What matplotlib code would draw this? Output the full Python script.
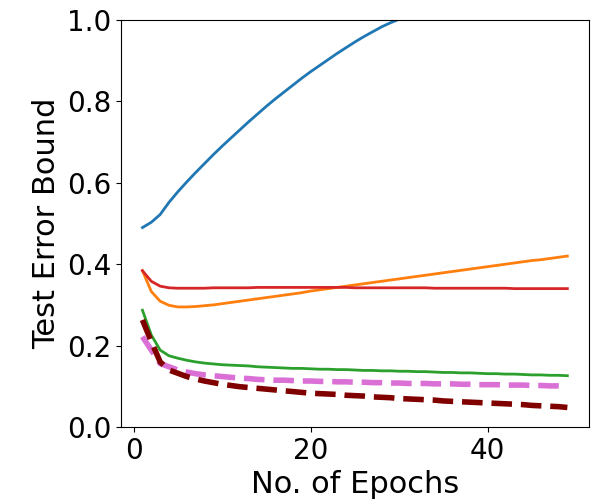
import numpy as np
import matplotlib
matplotlib.use("Agg")
import matplotlib.pyplot as plt

# epochs 1..49
epochs = np.arange(1, 50)

blue = [0.490, 0.503, 0.522, 0.552, 0.578, 0.602, 0.625, 0.647, 0.669, 0.690,
        0.710, 0.730, 0.750, 0.769, 0.788, 0.806, 0.823, 0.840, 0.857, 0.873,
        0.888, 0.903, 0.918, 0.932, 0.946, 0.959, 0.971, 0.983, 0.993, 1.002,
        1.014, 1.026, 1.038, 1.049, 1.060, 1.071, 1.081, 1.091, 1.101, 1.111,
        1.121, 1.130, 1.139, 1.148, 1.157, 1.165, 1.173, 1.181, 1.189]

orange = [0.384, 0.333, 0.309, 0.299, 0.295, 0.295, 0.296, 0.298, 0.300, 0.303,
          0.306, 0.309, 0.312, 0.315, 0.318, 0.321, 0.324, 0.327, 0.330, 0.334,
          0.337, 0.340, 0.343, 0.346, 0.349, 0.352, 0.355, 0.358, 0.361, 0.364,
          0.367, 0.370, 0.373, 0.376, 0.379, 0.382, 0.385, 0.388, 0.391, 0.394,
          0.397, 0.400, 0.403, 0.406, 0.409, 0.411, 0.414, 0.417, 0.420]

red = [0.384, 0.358, 0.346, 0.342, 0.341, 0.341, 0.341, 0.341, 0.342, 0.342,
       0.342, 0.342, 0.342, 0.343, 0.343, 0.343, 0.343, 0.343, 0.343, 0.343,
       0.343, 0.343, 0.343, 0.343, 0.342, 0.342, 0.342, 0.342, 0.342, 0.342,
       0.342, 0.342, 0.342, 0.341, 0.341, 0.341, 0.341, 0.341, 0.341, 0.341,
       0.341, 0.341, 0.340, 0.340, 0.340, 0.340, 0.340, 0.340, 0.340]

green = [0.287, 0.226, 0.189, 0.175, 0.169, 0.164, 0.160, 0.157, 0.155, 0.153,
         0.152, 0.151, 0.150, 0.148, 0.147, 0.146, 0.145, 0.144, 0.144, 0.143,
         0.142, 0.142, 0.141, 0.141, 0.140, 0.139, 0.139, 0.138, 0.138, 0.137,
         0.137, 0.136, 0.136, 0.135, 0.134, 0.134, 0.133, 0.133, 0.132, 0.131,
         0.131, 0.130, 0.130, 0.129, 0.128, 0.128, 0.127, 0.127, 0.126]

violet = [0.222, 0.189, 0.156, 0.148, 0.140, 0.135, 0.131, 0.128, 0.126, 0.124,
          0.122, 0.120, 0.119, 0.117, 0.116, 0.115, 0.115, 0.114, 0.113, 0.113,
          0.112, 0.112, 0.111, 0.111, 0.110, 0.110, 0.109, 0.109, 0.108, 0.108,
          0.107, 0.107, 0.107, 0.106, 0.106, 0.106, 0.105, 0.105, 0.104, 0.104,
          0.104, 0.103, 0.103, 0.103, 0.102, 0.102, 0.101, 0.101, 0.100]

maroon = [0.263, 0.210, 0.160, 0.140, 0.132, 0.124, 0.118, 0.113, 0.109, 0.105,
          0.102, 0.099, 0.097, 0.095, 0.093, 0.091, 0.089, 0.087, 0.085, 0.083,
          0.082, 0.081, 0.080, 0.078, 0.077, 0.076, 0.074, 0.073, 0.072, 0.070,
          0.069, 0.068, 0.067, 0.066, 0.064, 0.063, 0.062, 0.061, 0.060, 0.059,
          0.058, 0.057, 0.056, 0.055, 0.053, 0.052, 0.051, 0.050, 0.048]

fig = plt.figure(figsize=(6, 5), dpi=100)
ax = fig.add_axes([0.202, 0.146, 0.779, 0.814])

ax.plot(epochs, blue, color="tab:blue", lw=2)
ax.plot(epochs, orange, color="tab:orange", lw=2)
ax.plot(epochs, red, color="tab:red", lw=2)
ax.plot(epochs, green, color="tab:green", lw=2)
ax.plot(epochs, violet, color="orchid", lw=4, ls="--")
ax.plot(epochs, maroon, color="maroon", lw=4, ls="--")

ax.set_ylim(0, 1.0)
ax.set_xticks([0, 20, 40])
ax.set_yticks([0.0, 0.2, 0.4, 0.6, 0.8, 1.0])
ax.tick_params(labelsize=20)
ax.set_xlabel("No. of Epochs", fontsize=22)
ax.set_ylabel("Test Error Bound", fontsize=22)

fig.savefig("out.png")
